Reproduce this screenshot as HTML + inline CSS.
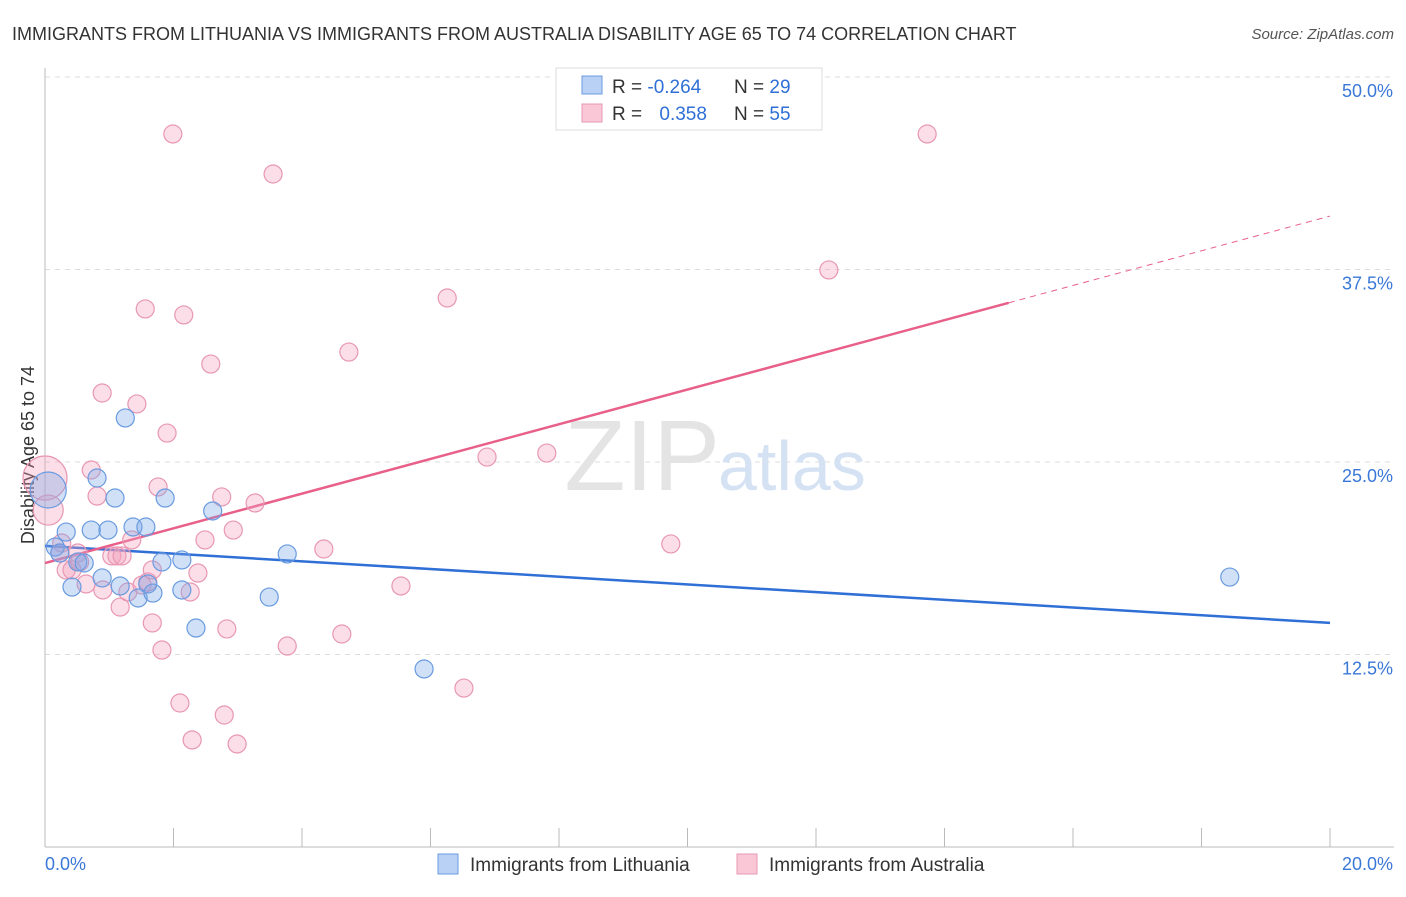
<!DOCTYPE html>
<html><head><meta charset="utf-8"><style>
body{margin:0;background:#fff;font-family:"Liberation Sans",sans-serif}
svg text{font-family:"Liberation Sans",sans-serif}
</style></head><body>
<svg width="1406" height="892" xmlns="http://www.w3.org/2000/svg">
<text x="12" y="40" font-size="18" fill="#333">IMMIGRANTS FROM LITHUANIA VS IMMIGRANTS FROM AUSTRALIA DISABILITY AGE 65 TO 74 CORRELATION CHART</text>
<text x="1394" y="39" font-size="15" fill="#555" text-anchor="end" font-style="italic">Source: ZipAtlas.com</text>
<g id="grid"></g>
<g id="axes"></g>
<text x="720" y="490" font-size="100" fill="#e4e4e4" text-anchor="end" font-family="Liberation Serif">ZIP</text>
<text x="718" y="490" font-size="70" fill="#d4e2f4">atlas</text>
<text x="34" y="455" font-size="18" fill="#333" text-anchor="middle" transform="rotate(-90 34 455)">Disability Age 65 to 74</text>
<g id="lines"></g>
<g id="points"></g>
<g>
<rect x="556" y="68" width="266" height="62" fill="#fff" stroke="#ddd"/>
<rect x="582" y="76" width="20" height="18" fill="#b9d1f4" stroke="#6a9be0"/>
<rect x="582" y="104" width="20" height="18" fill="#f9c7d6" stroke="#e897b2"/>
<text x="612" y="93" font-size="19" fill="#333">R = <tspan fill="#2f6fd6">-0.264</tspan></text>
<text x="734" y="93" font-size="19" fill="#333">N = <tspan fill="#2f6fd6">29</tspan></text>
<text x="612" y="120" font-size="19" fill="#333">R = <tspan fill="#2f6fd6" dx="12">0.358</tspan></text>
<text x="734" y="120" font-size="19" fill="#333">N = <tspan fill="#2f6fd6">55</tspan></text>
</g>
<g>
<rect x="438" y="854" width="20" height="20" fill="#b9d1f4" stroke="#6a9be0"/>
<text x="470" y="871" font-size="19" fill="#333">Immigrants from Lithuania</text>
<rect x="737" y="854" width="20" height="20" fill="#f9c7d6" stroke="#e897b2"/>
<text x="769" y="871" font-size="19" fill="#333">Immigrants from Australia</text>
</g>
</svg>
<script>
const blueX=[0.05,0.16,0.23,0.33,0.42,0.51,0.61,0.72,0.81,0.89,0.98,1.09,1.17,1.25,1.37,1.45,1.57,1.60,1.68,1.82,1.87,2.13,2.13,2.35,2.61,3.49,3.77,5.90,18.44];
const blueY=[23.18,19.48,19.09,20.45,16.88,18.51,18.44,20.58,23.96,17.47,20.58,22.66,16.95,27.86,20.78,16.17,20.78,17.08,16.49,18.51,22.66,18.64,16.69,14.22,21.82,16.23,19.03,11.56,17.53];
const pinkX=[0.0,0.05,0.23,0.26,0.33,0.42,0.51,0.54,0.64,0.72,0.81,0.89,0.90,1.04,1.12,1.17,1.20,1.29,1.35,1.43,1.51,1.56,1.60,1.67,1.67,1.76,1.82,1.90,1.99,2.10,2.16,2.26,2.29,2.38,2.49,2.58,2.75,2.79,2.83,2.93,2.99,3.27,3.55,3.77,4.34,4.62,4.73,5.54,6.26,6.52,6.88,7.81,9.74,12.20,13.73];
const pinkY=[23.96,21.88,19.09,19.74,17.99,17.99,19.09,18.51,17.08,24.48,22.79,29.48,16.69,18.90,18.90,15.58,18.90,16.56,19.94,28.77,17.01,34.94,17.21,17.99,14.55,23.38,12.79,26.88,46.30,9.35,34.55,16.56,6.95,17.79,19.94,31.36,22.73,8.57,14.16,20.58,6.69,22.34,43.70,13.05,19.35,13.83,32.14,16.95,35.65,10.32,25.32,25.58,19.68,37.47,46.30];
const blueTrend=[19.55,14.55];
const pinkTrend=[18.44,40.97];
const yTicks=[12.5,25,37.5,50];
const xTickLabels=["0.0%","20.0%"];
const NS="http://www.w3.org/2000/svg";
const X0=45,X1=1330,Y0=847,PX=15.4;
function sx(v){return X0+v/20*(X1-X0);}
function sy(v){return Y0-v*PX;}
function mk(tag,attrs,parent){const e=document.createElementNS(NS,tag);for(const k in attrs)e.setAttribute(k,attrs[k]);parent.appendChild(e);return e;}
const grid=document.getElementById('grid'),axes=document.getElementById('axes'),lines=document.getElementById('lines'),pts=document.getElementById('points');
yTicks.forEach(t=>{
 const l=mk('line',{x1:X0,x2:1394,y1:sy(t),y2:sy(t),stroke:'#ddd','stroke-dasharray':'5,5'},grid);
 
 
 const tx=mk('text',{x:1393,y:sy(t)+20,'font-size':18,fill:'#3a78d8','text-anchor':'end'},grid);
 tx.textContent=t.toFixed(1)+'%';
 
 
});
let a=mk('line',{x1:X0,x2:1394,y1:Y0,y2:Y0,stroke:'#bbb'},axes);


a=mk('line',{x1:X0,x2:X0,y1:68,y2:Y0,stroke:'#bbb'},axes);


for(let i=0;i<=10;i++){
 const t=mk('line',{x1:sx(i*2),x2:sx(i*2),y1:828,y2:Y0,stroke:'#bbb'},axes);
 
 
}
[[0,'start',45],[1,'end',1393]].forEach(([i,anc,x])=>{
 const t=mk('text',{x:x,y:870,'font-size':18,fill:'#3a78d8','text-anchor':anc},axes);
 t.textContent=xTickLabels[i];
 
 
});
let bl=mk('line',{x1:sx(0),y1:sy(blueTrend[0]),x2:sx(20),y2:sy(blueTrend[1]),stroke:'#2f6fd6','stroke-width':2.5},lines);


const xe=15.0,pe=pinkTrend[0]+(pinkTrend[1]-pinkTrend[0])*xe/20;
let pl=mk('line',{x1:sx(0),y1:sy(pinkTrend[0]),x2:sx(xe),y2:sy(pe),stroke:'#e8608a','stroke-width':2.5},lines);


let pd=mk('line',{x1:sx(xe),y1:sy(pe),x2:sx(20),y2:sy(pinkTrend[1]),stroke:'#e8608a','stroke-width':1,'stroke-dasharray':'6,5'},lines);


pinkX.forEach((x,i)=>{
 const r=i===0?22:(i===1?15:9);
 const c=mk('circle',{cx:sx(x),cy:sy(pinkY[i]),r:r,fill:'rgba(244,160,188,0.35)',stroke:'#e897b2','stroke-width':1.2},pts);
 
 
});
blueX.forEach((x,i)=>{
 const r=i===0?18:9;
 const c=mk('circle',{cx:sx(x),cy:sy(blueY[i]),r:r,fill:'rgba(120,165,232,0.35)',stroke:'#6a9be0','stroke-width':1.2},pts);
 
 
});
</script>
</body></html>
